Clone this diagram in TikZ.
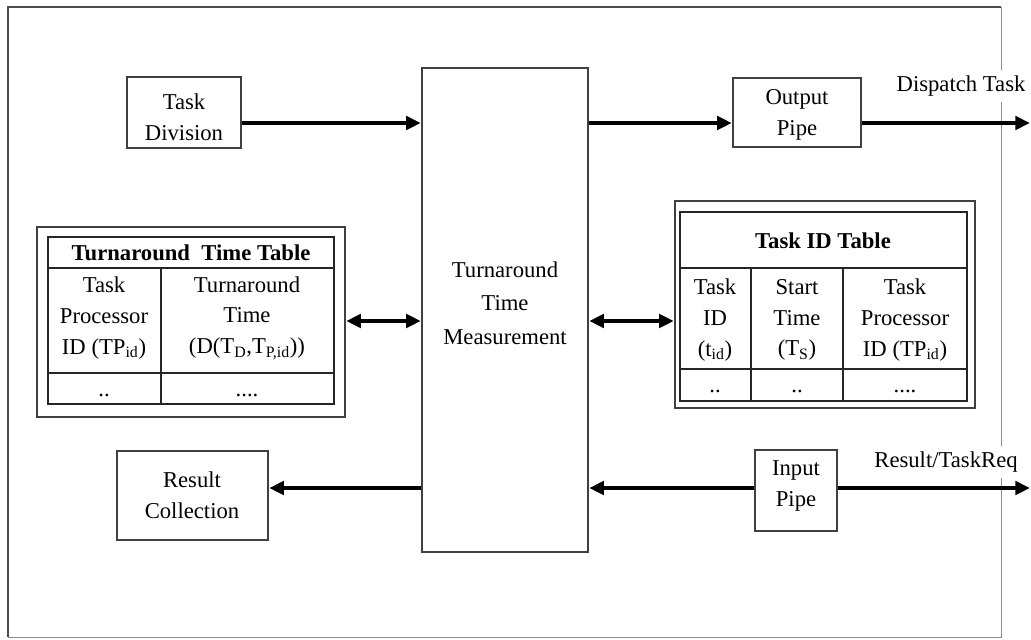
\documentclass[tikz,border=0pt]{standalone}
\usepackage{fontspec}
\setmainfont{Liberation Serif}
\usetikzlibrary{arrows.meta,fit,calc}
\begin{document}
\begin{tikzpicture}[x=0.75pt,y=-0.75pt,
  box/.style={draw=black!75, line width=1.8pt, inner sep=0pt},
  txt/.style={font=\fontsize{17}{23}\selectfont, align=center, inner sep=1pt},
  btxt/.style={font=\fontsize{17}{23}\selectfont\bfseries, align=center, inner sep=1pt},
  arr/.style={line width=2.8pt, -{Triangle[length=11pt,width=10pt]}},
  darr/.style={line width=2.8pt, {Triangle[length=11pt,width=10pt]}-{Triangle[length=11pt,width=10pt]}},
  tl/.style={draw=black!85, line width=1.8pt}]
\useasboundingbox (0,0) rectangle (1031,639);
% outer frame
\draw[black!70, line width=1.6pt] (8,637) -- (8,7) -- (1001,7);
\draw[black!45, line width=0.6pt] (1001,7) -- (1001,637) -- (8,637);
% boxes
\node[box, fit={(127,77)(241,148)}] (td) {};
\node[box, fit={(422,68)(588,552)}] (tcm) {};
\node[box, fit={(733,78)(861,147)}] (op) {};
\node[box, fit={(117,451)(268,540)}] (rc) {};
\node[box, fit={(755,450)(837,531)}] (ip) {};
\node[box, fit={(37,227)(345,417)}] (ttt) {};
\node[box, fit={(675,201)(975,408)}] (tid) {};
% box texts
\node[txt] (tdT) at (184,117) {Task\\Division};
\node[txt, font=\fontsize{17}{25}\selectfont] (tcmT) at (505,303) {Turnaround\\Time\\Measurement};
\node[txt] (opT) at (797,115) {Output\\Pipe};
\node[txt] (rcT) at (192,495) {Result\\Collection};
\node[txt] (ipT) at (796,486) {Input\\Pipe};
% Turnaround time table
\draw[tl] (48,237) rectangle (334,404);
\draw[tl] (48,268) -- (334,268);
\draw[tl] (48,373) -- (334,373);
\draw[tl] (161,268) -- (161,404);
\node[btxt] (tttH) at (191,253) {Turnaround\ \ Time Table};
\node[txt] (tttA) at (104,318) {Task\\Processor\\ID (TP\textsubscript{id})};
\node[txt] (tttB) at (247,318) {Turnaround\\Time\\(D(T\textsubscript{D},T\textsubscript{P,id}))};
\node[txt] (tttC) at (104,395) {..};
\node[txt] (tttD) at (247,395) {....};
% Task ID table
\draw[tl] (680,212) rectangle (967,401);
\draw[tl] (680,268) -- (967,268);
\draw[tl] (680,369) -- (967,369);
\draw[tl] (751,268) -- (751,401);
\draw[tl] (843,268) -- (843,401);
\node[btxt] (tidH) at (823,241) {Task ID Table};
\node[txt] (tidA) at (715,320) {Task\\ID\\(t\textsubscript{id})};
\node[txt] (tidB) at (797,320) {Start\\Time\\(T\textsubscript{S})};
\node[txt] (tidC) at (905,320) {Task\\Processor\\ID (TP\textsubscript{id})};
\node[txt] (tidD) at (715,391) {..};
\node[txt] (tidE) at (797,391) {..};
\node[txt] (tidF) at (905,391) {....};
% side labels
\node[txt, fill=white, inner sep=4pt] (dl) at (961,86) {Dispatch Task};
\node[txt, fill=white, inner sep=4pt] (rl) at (946,462) {Result/TaskReq};
% coordinates
\coordinate (ya) at (0,123);
\coordinate (yb) at (0,321);
\coordinate (yc) at (0,488);
\coordinate (ed) at (1030,123);
\coordinate (er) at (1030,488);
% connectors
\draw[arr] (td.east |- ya) -- (tcm.west |- ya);
\draw[arr] (tcm.east |- ya) -- (op.west |- ya);
\draw[arr] (op.east |- ya) -- (ed);
\draw[darr] (ttt.east |- yb) -- (tcm.west |- yb);
\draw[darr] (tcm.east |- yb) -- (tid.west |- yb);
\draw[arr] (tcm.west |- yc) -- (rc.east |- yc);
\draw[arr] (ip.west |- yc) -- (tcm.east |- yc);
\draw[arr] (ip.east |- yc) -- (er);
\end{tikzpicture}
\end{document}
